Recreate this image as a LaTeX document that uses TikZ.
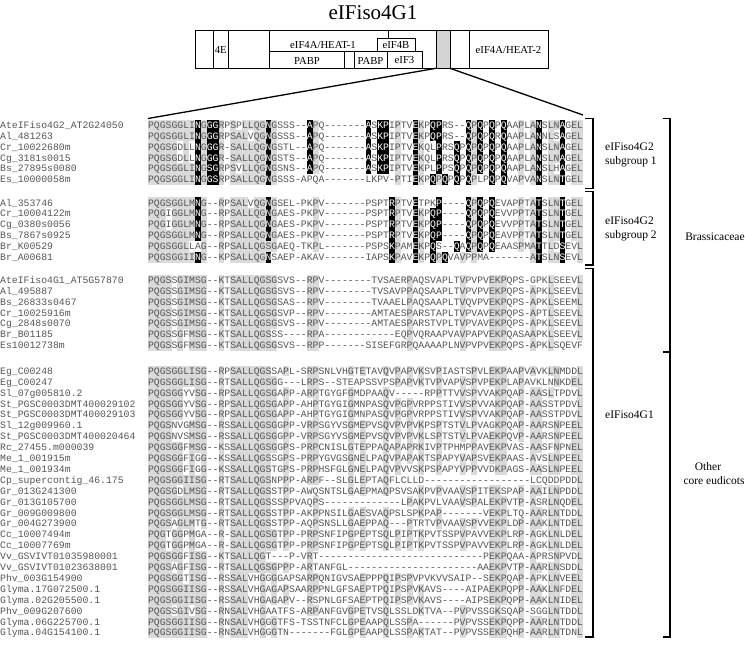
\documentclass[tikz,border=0pt]{standalone}
\usepackage{fontspec}
\newfontfamily\monofont{Liberation Mono}
\newfontfamily\seriffont{Liberation Serif}
\definecolor{txtgray}{RGB}{85,85,85}
\definecolor{shadegray}{RGB}{218,218,218}
\definecolor{domgray}{RGB}{212,212,212}
\tikzset{
  seqtxt/.style={font={\monofont\fontsize{9.8pt}{10pt}\selectfont},text=txtgray,inner sep=0pt,anchor=base},
  namelbl/.style={font={\monofont\fontsize{9.8pt}{10pt}\selectfont},text=txtgray,inner sep=0pt,anchor=base west},
  domlbl/.style={font={\seriffont\fontsize{10.7pt}{12pt}\selectfont},inner sep=0pt},
  grplbl/.style={font={\seriffont\fontsize{11.5pt}{13pt}\selectfont},inner sep=0pt},
  brk/.style={line width=1.6pt},
  thinline/.style={line width=0.8pt},
}
\newcount\colidx
\def\consA{%
PQGSGGLMSG%
..R.SALLQG%
SG.P...RP.%
....G.E...%
Q.P.P.K..P%
...V.P..EK%
P..P.AA.LN%
..EL%
..........}
\def\consB{%
......II..%
..K.......%
..........%
..........%
..........%
..........%
..........%
....%
..........}
\def\nomask{%
..........%
..........%
..........%
..........%
..........%
..........%
..........%
....%
..........}
\def\mA{%
........x.%
xx........%
x......x..%
.......x.x%
x....x..xx%
....x.x.x.%
x.....x...%
x...%
..........}
\def\mB{%
........x.%
xx........%
x......x..%
.......x.x%
x....x...x%
..x.x.x.x.%
x.....x...%
x...%
..........}
\def\mC{%
........x.%
xx........%
x.........%
..........%
.....x..x.%
x.x.x...x.%
x.....x...%
x...%
..........}
\def\mD{%
........x.%
..........%
x.........%
..........%
.x...x...x%
....x.x.x.%
......x...%
x...%
..........}
\def\mE{%
........x.%
..........%
x.........%
..........%
.x...x..xx%
....x.x.x.%
......x...%
x...%
..........}
\def\mF{%
..........%
..........%
..........%
..........%
.x...x..x.%
..x.x.x.x.%
......x...%
x...%
..........}
\def\mG{%
........x.%
..........%
x.........%
..........%
.x...x..x.%
x.........%
......x...%
x...%
..........}
\def\gobbleone#1{}
\def\firstofone#1{#1}
\def\drawcell#1#2#3#4{%
  \pgfmathsetmacro\cx{148+5.88*\the\colidx}%
  \def\cellkind{0}%
  \if#1#2\def\cellkind{1}\fi
  \if#1#3\def\cellkind{1}\fi
  \if x#4\def\cellkind{2}\fi
  \ifcase\cellkind\relax
    \node[seqtxt] at (\cx+2.94,\rowy+3.3) {#1};%
  \or
    \fill[shadegray] (\cx,\rowy-5.45) rectangle (\cx+5.88,\rowy+5.45);%
    \node[seqtxt] at (\cx+2.94,\rowy+3.3) {#1};%
  \or
    \fill[black] (\cx,\rowy-5.45) rectangle (\cx+5.88,\rowy+5.45);%
    \node[seqtxt,text=white] at (\cx+2.94,\rowy+3.3) {#1};%
  \fi}
\def\procchar#1#2\relax#3#4\relax#5#6\relax#7#8\relax{%
  \drawcell{#1}{#3}{#5}{#7}%
  \advance\colidx by 1\relax
  \ifx\relax#2\relax\expandafter\gobbleone\else\expandafter\firstofone\fi
  {\procchar#2\relax#4\relax#6\relax#8\relax}}
\def\seqrow#1#2#3{%
  \def\rowy{#1}\colidx=0
  \edef\tmpcall{\noexpand\procchar#2\relax\consA\relax\consB\relax#3\relax}%
  \tmpcall}
\newcommand\arow[4]{%
  \node[namelbl] at (0,#1+3.3) {#2};%
  \seqrow{#1}{#3}{#4}}
\begin{document}
\begin{tikzpicture}[x=1pt,y=-1pt]
\useasboundingbox (0,0) rectangle (745,648);
% ---------- domain diagram ----------
\node[font={\seriffont\fontsize{21pt}{24pt}\selectfont},inner sep=0pt] (title) at (373,12.5) {eIFiso4G1};
\fill[domgray] (436,30.7) rectangle (450,68.3);
\draw[thinline] (436,30.7) rectangle (450,68.3);
\draw[thinline] (213.3,30.7) -- (213.3,68.3);
\draw[thinline] (228.3,30.7) -- (228.3,68.3);
\draw[thinline] (269,30.7) -- (269,68.3);
\draw[thinline] (269,51.7) -- (377,51.7);
\draw[thinline] (388,30.7) -- (388,38.3);
\draw[thinline] (377,38.3) rectangle (415,51.7);
\draw[thinline] (269,51.7) rectangle (344,68.3);
\draw[thinline] (354,51.7) rectangle (387,68.3);
\draw[thinline] (387,51.7) rectangle (422,68.3);
\draw[thinline] (469,30.7) -- (469,68.3);
\draw[line width=1pt] (195,30.7) rectangle (548,68.3);
\node[domlbl] (d4e) at (220.8,50) {4E};
\node[domlbl] (dheat1) at (323,45) {eIF4A/HEAT-1};
\node[domlbl] (d4b) at (396,45) {eIF4B};
\node[domlbl] (dpabp1) at (307,60.5) {PABP};
\node[domlbl] (dpabp2) at (370.5,60.5) {PABP};
\node[domlbl] (deif3) at (404.5,60.5) {eIF3};
\node[domlbl] (dheat2) at (508.5,50) {eIF4A/HEAT-2};
\coordinate (gl) at (436,68.3);
\coordinate (gr) at (450,68.3);
\coordinate (al) at (148,118.5);
\coordinate (ar) at (583,115);
\draw[line width=1.3pt] (gl) -- (al);
\draw[line width=1.3pt] (gr) -- (ar);
% ---------- group 1 ----------
\arow{125}{AteIFiso4G2\_AT2G24050}{PQGSGGLINGGGRPSPLLQGNGSSS--APQ-------ASKPIPTVEKPQPRS--QPQPQPQAAPLANSLNAGEL}{\mA}
\arow{135.9}{Al\_481263}{PQGSGGLINGGGRPSALVQGNGSSS--APQ-------ASKPIPTVEKPQPRS--QPQPQRQAAPLANNLSAGEL}{\mA}
\arow{146.8}{Cr\_10022680m}{PQGSGDLLNGGGR-SALLQGNGSTL--APQ-------ASKPIPTVEKQLPRSQPQPQPQPQAAPLANSLNAGEL}{\mB}
\arow{157.7}{Cg\_3181s0015}{PQGSGDLLNGGGR-SALLQGNGSTS--APQ-------ASKPIPTVEKQLPRSQPQPQPQPQAAPLANSLNAGEL}{\mB}
\arow{168.6}{Bs\_27895s0080}{PQGSGGLINGSGRPSVLLQGNGSNS--APQ-------ASKPIPTVEKPLPPSQPQPQPQPQAAPLANSLHAGEL}{\mB}
\arow{179.5}{Es\_10000058m}{PQGSGGLINGGSRPSALLQGNGSSS-APQA-------LKPV-PTIEKPQPQPQPQPLPQPQVAPVANSLNTGEL}{\mC}
% ---------- group 2 ----------
\arow{202.7}{Al\_353746}{PQGSGGLMNG--RPSALVQGNGSEL-PKPV-------PSPTRPTVETPKP----QPQPQEVAPPTATSLNTGEL}{\mD}
\arow{213.6}{Cr\_10004122m}{PQGIGGLMNG--RPSALLQGNGAES-PKPV-------PSPTRPTVEKPQP----QPQPQEVVPPTATSLNTGEL}{\mE}
\arow{224.5}{Cg\_0380s0056}{PQGIGGLMNG--RPSALLQGNGAES-PKPV-------PSPTRPTVEKPQP----QPQPQEVVPPTATSLNTGEL}{\mE}
\arow{235.4}{Bs\_7867s0925}{PQGSGGLMNG--RPSALLQGNGAES-PKPV-------PSPTRPTVEKPQP----QPQPQEAVPPTATSLNTGEL}{\mE}
\arow{246.3}{Br\_K00529}{PQGSGGLLAG--RPSALLQGSGAEQ-TKPL-------PSPSKPAMEKPQS--QAQPQPQEAASPMATTLDSEVL}{\mF}
\arow{257.2}{Br\_A00681}{PQGSGGIING--KPSALLQGNSAEP-AKAV-------IAPSKPAVEKPQPQVAVPPMA-------ATSLNSEVL}{\mG}
% ---------- group 3 ----------
\arow{280}{AteIFiso4G1\_AT5G57870}{PQGSSGIMSG--KTSALLQGSGSVS--RPV--------TVSAERPAQSVAPLTVPVPVEKPQPS-GPKLSEEVL}{\nomask}
\arow{290.9}{Al\_495887}{PQGSSGIMSG--KTSALLQGSGSVS--RPV--------TVSAVPPAQSAAPLTVPVPVEKPQPS-APKLSEEVL}{\nomask}
\arow{301.8}{Bs\_26833s0467}{PQGSSGIMSG--KTSALLQGSGSAS--RPV--------TVAAELPAQSAAPLTVQVPVEKPQPS-APKLSEEML}{\nomask}
\arow{312.7}{Cr\_10025916m}{PQGSSGIMSG--KTSALLQGSGSVP--RPV--------AMTAESPARSTAPLTVPVAVEKPQPS-APTLSEEVL}{\nomask}
\arow{323.6}{Cg\_2848s0070}{PQGSSGIMSG--KTSALLQGSGSVS--RPV--------AMTAESPARSTVPLTVPVAVEKPQPS-APKLSEEVL}{\nomask}
\arow{334.5}{Br\_B01185}{PQGSSGFMSG--KTSALLQGSSS----RPA------------EQPVQRAAPVAVPAPVEKPQASAAPKLSEEVL}{\nomask}
\arow{345.4}{Es10012738m}{PQGSSGFMSG--KTSALLQGSGSVS--RPP-------SISEFGRPQAAAAPLNVPVPVEKPQPS-APKLSQEVF}{\nomask}
% ---------- group 4 ----------
\arow{371}{Eg\_C00248}{PQGSGGLISG--RPSALLQGSSAPL-SRPSNLVHGTETAVQVPAPVKSVPIASTSPVLEKPAAPVAVKLNMDDL}{\nomask}
\arow{381.9}{Eg\_C00247}{PQGSGGLISG--RTSALLQGSGG---LRPS--STEAPSSVPSPAPVKTVPVAPVSPVPEKPLAPAVKLNNKDEL}{\nomask}
\arow{392.8}{Sl\_07g005810.2}{PQGSGGYVSG--RPSALLQGSGAPP-ARPTGYGFGMDPAAQV-----RPPTTVVSPVVAKPQAP-AASLTPDVL}{\nomask}
\arow{403.7}{St\_PGSC0003DMT400029102}{PQGSGGYVSG--RPSALLQGSGAPP-AHPTGYGIGMNPASQVPGPVRPPSTIVVSPVVAKPQAP-AASSTPDVL}{\nomask}
\arow{414.6}{St\_PGSC0003DMT400029103}{PQGSGGYVSG--RPSALLQGSGAPP-AHPTGYGIGMNPASQVPGPVRPPSTIVVSPVVAKPQAP-AASSTPDVL}{\nomask}
\arow{425.5}{Sl\_12g009960.1}{PQGSNVGMSG--RSSALLQGSGGPP-VRPSGYVSGMEPVSQVPVPVKPSPTSTVLPVAGKPQAP-AARSNPEEL}{\nomask}
\arow{436.4}{St\_PGSC0003DMT400020464}{PQGSNVSMSG--RSSALLQGSGGPP-VRPSGYVSGMEPVSQVPVPVKLSPTSTVLPVAEKPQVP-AARSNPEEL}{\nomask}
\arow{447.3}{Rc\_27455.m000039}{PQGSGGFMSG--KSSALLQGSGGPS-PRPCNISLGTEPPAQAPAPRKIVPTPHMPPAVEKPVAS-AASFNPNEL}{\nomask}
\arow{458.2}{Me\_1\_001915m}{PQGSGGFIGG--KSSALLQGSSGPS-PRPYGVGSGNELPAQVPAPAKTSPAPYVAPSVEKPAAS-AVSLNPEEL}{\nomask}
\arow{469.1}{Me\_1\_001934m}{PQGSGGFIGG--KSSALLQGSTGPS-PRPHSFGLGNELPAQVPVVSKPSPAPYVPPVVDKPAGS-AASLNPEEL}{\nomask}
\arow{480}{Cp\_supercontig\_46.175}{PQGSGGIISG--RTSALLQGSNPPP-ARPF--SLGLEPTAQFLCLLD------------------LCQDDPDDL}{\nomask}
\arow{490.9}{Gr\_013G241300}{PQGSGDLMSG--RTSALLQGSSTPP-AWQSNTSLGAEPMAQPSVSAKPVPVAAVSPITEKSPAP-AAILNPDDL}{\nomask}
\arow{501.8}{Gr\_013G105700}{PQGSGGLMSG--RTSALLQGSSSPPVAQPS-------------LPAKPVLVAAVSPALEKPVTP-ASRLNQDEL}{\nomask}
\arow{512.7}{Gr\_009G009800}{PQGSGGLMSG--RTSALLQGSSTPP-AKPPNSILGAESVAQPSLSPKPAP-------VEKPLTQ-AARLNTDDL}{\nomask}
\arow{523.6}{Gr\_004G273900}{PQGSAGLMTG--RTSALLQGSSTPP-AQPSNSLLGAEPPAQ---PTRTVPVAAVSPVVEKPLDP-AAKLNTDEL}{\nomask}
\arow{534.5}{Cc\_10007494m}{PQGTGGPMGA--R-SALLQGSGTPP-PRPSNFIPGPEPTSQLPIPTKPVTSSPVPAVVEKPLRP-AGKLNLDEL}{\nomask}
\arow{545.4}{Cc\_10007769m}{PQGTGGPMGA--R-SALLQGSGTPP-PRPSNFIPGPEPTSQLPIPTKPVTSSPVPAVVEKPLRP-AGKLNLDEL}{\nomask}
\arow{556.3}{Vv\_GSVIVT01035980001}{PQGSGGFISG--KTSALLQGT---P-VRT----------------------------PEKPQAA-APRSNPVDL}{\nomask}
\arow{567.2}{Vv\_GSVIVT01023638001}{PQGSAGFISG--RTSALLQGSGPPP-ARTANFGL----------------------AAEKPVTP-AARLNSDDL}{\nomask}
\arow{578.1}{Phv\_003G154900}{PQGSGGTISG--RSSALVHGGGGAPSARPQNIGVSAEPPPQIPSPVPVKVVSAIP--SEKPQAP-APKLNVEEL}{\nomask}
\arow{589}{Glyma.17G072500.1}{PQGSGGIISG--RSSALVHGAGAPSAARPPNLGFSAEPTPQIPSPVKAVS----AIPAEKPQPP-AAKLNFDEL}{\nomask}
\arow{599.9}{Glyma.02G205500.1}{PQGSGGIISG--RSSALVHGAGAPV--RSPNLGFSAEPTPQIPSPVKAVS----AIPSEKPQPP-AAKLNIDEL}{\nomask}
\arow{610.8}{Phv\_009G207600}{PQGSSGIVSG--RNSALVHGAATFS-ARPANFGVGPETVSQLSSLDKTVA--PVPVSSGKSQAP-SGGLNTDDL}{\nomask}
\arow{621.7}{Glyma.06G225700.1}{PQGSGGIISG--RNSALVHGGGTFS-TSSTNFCLGPEAAPQLSSPA------PVPVSSEKPQPP-AARLNTDDL}{\nomask}
\arow{632.6}{Glyma.04G154100.1}{PQGSGGIISG--RNSALVHGGGTN-------FGLGPEAAPQLSSPAKTAT--PVPVSSEKPQHP-AARLNTDNL}{\nomask}
% ---------- brackets ----------
\draw[brk] (585,118.5) -- (593,118.5) -- (593,188.5) -- (585,188.5);
\draw[brk] (585,191.5) -- (593,191.5) -- (593,265) -- (585,265);
\draw[brk] (585,268.5) -- (593,268.5) -- (593,637) -- (585,637);
\draw[brk] (663,118.5) -- (670,118.5) -- (670,637) -- (663,637);
\draw[brk] (663,352) -- (670,352);
\node[grplbl,anchor=west] (l1a) at (605,147) {eIFiso4G2};
\node[grplbl,anchor=west] (l1b) at (605,161.5) {subgroup 1};
\node[grplbl,anchor=west] (l2a) at (605,220.5) {eIFiso4G2};
\node[grplbl,anchor=west] (l2b) at (605,235.5) {subgroup 2};
\node[grplbl,anchor=west] (l3) at (605,415) {eIFiso4G1};
\node[grplbl] (lbr) at (715,237) {Brassicaceae};
\node[grplbl] (lot1) at (708,467) {Other};
\node[grplbl] (lot2) at (714,481) {core eudicots};
\end{tikzpicture}
\end{document}
